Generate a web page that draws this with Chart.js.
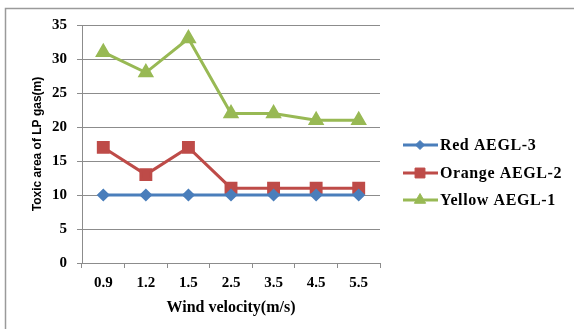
<!DOCTYPE html>
<html lang="en">
<head>
  <meta charset="UTF-8">
  <title>Toxic area of LP gas</title>
  <script src="https://cdn.jsdelivr.net/npm/chart.js"></script>
  <style>
    html, body { margin: 0; padding: 0; background: #fff; }
    #wrap { width: 574px; height: 329px; }
  </style>
</head>
<body>
  <div id="wrap"><canvas id="myChart" width="574" height="329"></canvas></div>
  <script>
    const windVelocity = ['0.9', '1.2', '1.5', '2.5', '3.5', '4.5', '5.5'];
    const redAegl3 = [10, 10, 10, 10, 10, 10, 10];
    const orangeAegl2 = [17, 13, 17, 11, 11, 11, 11];
    const yellowAegl1 = [31, 28, 33, 22, 22, 21, 21];
    const yTicks = [0, 5, 10, 15, 20, 25, 30, 35];

    const serif = "'Liberation Serif', 'Times New Roman', serif";

    // grey frame around the chart, cut off on the right and bottom like the original
    const framePlugin = {
      id: 'frame',
      beforeDraw(chart) {
        const ctx = chart.ctx;
        ctx.save();
        ctx.strokeStyle = '#9a9a9a';
        ctx.lineWidth = 1.5;
        ctx.beginPath();
        ctx.moveTo(5.5, chart.height);
        ctx.lineTo(5.5, 8.5);
        ctx.lineTo(chart.width, 8.5);
        ctx.stroke();
        ctx.restore();
      }
    };

    // Excel style legend: line with marker, then label
    const legendPlugin = {
      id: 'sideLegend',
      afterDraw(chart) {
        const ctx = chart.ctx;
        const rows = [145, 173, 200];
        ctx.save();
        chart.data.datasets.forEach((ds, i) => {
          const y = rows[i];
          ctx.strokeStyle = ds.borderColor;
          ctx.lineWidth = 3;
          ctx.beginPath();
          ctx.moveTo(403, y);
          ctx.lineTo(438, y);
          ctx.stroke();
          ctx.fillStyle = ds.pointBackgroundColor;
          ctx.strokeStyle = ds.pointBorderColor;
          ctx.lineWidth = 1;
          Chart.helpers.drawPoint(ctx, { pointStyle: ds.pointStyle, radius: ds.pointRadius, borderWidth: 1 }, 420, y);
          ctx.fillStyle = '#000';
          ctx.font = 'bold 16px ' + serif;
          ctx.textBaseline = 'middle';
          ctx.textAlign = 'left';
          ctx.letterSpacing = '0.6px';
          ctx.fillText(ds.label, 440, y + 1);
        });
        ctx.restore();
      }
    };

    const ctx = document.getElementById('myChart').getContext('2d');
    new Chart(ctx, {
      type: 'line',
      data: {
        labels: windVelocity,
        datasets: [
          {
            label: 'Red AEGL-3',
            data: redAegl3,
            borderColor: '#4A7EBB',
            backgroundColor: '#4A7EBB',
            pointBackgroundColor: '#4A7EBB',
            pointBorderColor: '#4A7EBB',
            pointStyle: 'rectRot',
            pointRadius: 4.5,
            borderWidth: 3
          },
          {
            label: 'Orange AEGL-2',
            data: orangeAegl2,
            borderColor: '#BE4B48',
            backgroundColor: '#BE4B48',
            pointBackgroundColor: '#BE4B48',
            pointBorderColor: '#BE4B48',
            pointStyle: 'rect',
            pointRadius: 7,
            borderWidth: 3
          },
          {
            label: 'Yellow AEGL-1',
            data: yellowAegl1,
            borderColor: '#98B954',
            backgroundColor: '#98B954',
            pointBackgroundColor: '#98B954',
            pointBorderColor: '#98B954',
            pointStyle: 'triangle',
            pointRadius: 6.5,
            borderWidth: 3
          }
        ]
      },
      options: {
        responsive: false,
        animation: false,
        layout: { padding: { left: 0, right: 194, top: 25, bottom: 0 } },
        plugins: {
          legend: { display: false },
          tooltip: { enabled: false }
        },
        elements: { line: { tension: 0 }, point: { borderWidth: 1 } },
        scales: {
          x: {
            offset: true,
            grid: {
              offset: true,
              drawOnChartArea: false,
              drawTicks: true,
              tickLength: 5,
              color: '#8c8c8c'
            },
            border: { display: true, color: '#8c8c8c', width: 1 },
            ticks: {
              color: '#000',
              font: { family: serif, size: 15, weight: 'bold' },
              padding: 6,
              maxRotation: 0
            },
            title: {
              display: true,
              text: 'Wind velocity(m/s)',
              color: '#000',
              font: { family: serif, size: 16, weight: 'bold' },
              padding: { top: 0, bottom: 12 }
            },
            afterFit(scale) { scale.height = 66; }
          },
          y: {
            min: 0,
            max: 35,
            afterBuildTicks(scale) { scale.ticks = yTicks.map(v => ({ value: v })); },
            grid: {
              color: '#8c8c8c',
              drawTicks: true,
              tickLength: 5
            },
            border: { display: true, color: '#8c8c8c', width: 1 },
            ticks: {
              color: '#000',
              font: { family: serif, size: 15, weight: 'bold' },
              padding: 10
            },
            title: {
              display: true,
              text: 'Toxic area of LP gas(m)',
              color: '#000',
              font: { family: "'Liberation Sans', Arial, sans-serif", size: 12, weight: 'bold' },
              padding: { top: 30, bottom: 0 }
            },
            afterFit(scale) { scale.width = 82; }
          }
        }
      },
      plugins: [framePlugin, legendPlugin]
    });
  </script>
</body>
</html>
